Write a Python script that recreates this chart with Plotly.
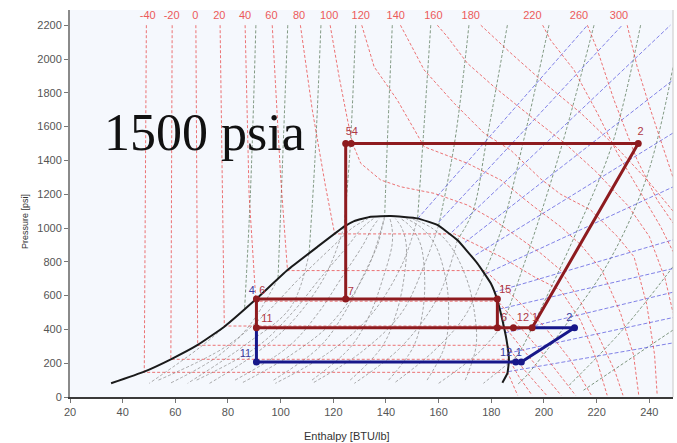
import plotly.graph_objects as go

# ---------------- axes ----------------
X_RANGE = [20, 249]
Y_RANGE = [0, 2290]
X_TICKS = [20, 40, 60, 80, 100, 120, 140, 160, 180, 200, 220, 240]
Y_TICKS = [0, 200, 400, 600, 800, 1000, 1200, 1400, 1600, 1800, 2000, 2200]

# ---------------- saturation dome ----------------
DOME_H = [35.6, 48.2, 58.3, 68.5, 78.6, 90.6, 102.6, 114.0, 124.1, 127.9, 134.2, 141.8,
          151.9, 159.5, 167.1, 174.7, 179.8, 182.3, 184.2, 185.8, 186.7, 186.1, 184.2]
DOME_P = [81, 150, 223, 308, 416, 578, 751, 889, 1008, 1041, 1067, 1071,
          1057, 1018, 929, 791, 673, 574, 456, 337, 219, 140, 85]

# ---------------- isotherms (red dashed) ----------------
ISO_T = [-40, -20, 0, 20, 40, 60, 80, 100, 120, 140, 160, 180, 220, 260, 300]
ISO_H = [
    [49.0, 48.2, 186.2, 188.0, 190.0],
    [58.8, 58.3, 186.7, 190.5, 195.5],
    [67.8, 68.5, 186.1, 192.0, 201.0],
    [77.0, 78.6, 184.9, 191.0, 199.0, 206.5],
    [86.5, 88.0, 90.6, 182.5, 190.0, 200.0, 212.0],
    [96.8, 100.0, 102.6, 177.6, 188.0, 200.0, 210.0, 218.0],
    [107.5, 112.0, 117.0, 120.5, 166.0, 183.6, 196.2, 206.3, 214.0, 220.0, 224.0],
    [118.8, 122.2, 125.4, 127.3, 130.4, 138.0, 145.6, 158.3, 170.9, 181.0, 189.9, 198.8,
     206.3, 214.0, 221.0, 227.0, 230.0],
    [130.8, 135.5, 144.3, 154.5, 170.9, 183.6, 196.2, 206.3, 214.0, 222.0, 229.0, 234.0, 236.0],
    [145.5, 154.5, 165.9, 177.3, 187.4, 198.8, 206.3, 217.7, 227.9, 234.2, 239.0, 242.0, 243.0],
    [159.5, 163.3, 170.9, 181.0, 195.0, 208.0, 220.0, 232.0, 240.0, 246.0, 249.0],
    [176.0, 187.4, 200.0, 214.0, 228.0, 240.0, 249.0],
    [199.5, 202.5, 211.4, 220.3, 227.9, 236.7, 244.3, 249.0],
    [216.5, 220.3, 226.6, 235.4, 243.0, 249.0],
    [231.6, 235.4, 240.5, 246.8, 249.0],
]
ISO_P = [
    [2200, 146, 146, 80, 10],
    [2200, 223, 223, 120, 10],
    [2200, 306, 306, 170, 10],
    [2200, 420, 420, 300, 150, 10],
    [2200, 1200, 567, 567, 430, 250, 10],
    [2200, 1300, 748, 748, 600, 420, 220, 10],
    [2200, 1700, 1250, 965, 965, 830, 712, 633, 450, 220, 10],
    [2200, 1895, 1639, 1501, 1383, 1284, 1244, 1205, 1136, 1047, 949, 850,
     751, 560, 350, 150, 10],
    [2200, 1954, 1757, 1481, 1383, 1284, 1126, 1008, 900, 750, 500, 250, 10],
    [2200, 1935, 1738, 1560, 1460, 1290, 1200, 1107, 949, 830, 550, 250, 10],
    [2200, 2132, 1975, 1836, 1660, 1500, 1330, 1130, 950, 700, 500],
    [2200, 2035, 1860, 1680, 1470, 1270, 1100],
    [2200, 2112, 1935, 1679, 1442, 1205, 1008, 860],
    [2200, 2053, 1757, 1402, 1166, 1030],
    [2200, 1954, 1698, 1402, 1300],
]
TLABEL_X = [49.5, 58.6, 67.6, 76.7, 86.5, 96.5, 107.0, 118.4, 130.4, 143.7, 158.0, 172.2,
            195.6, 213.3, 228.5]
TLABEL_Y = 2254

# ---------------- isochors (blue dashed) ----------------
ISOCHOR_H = [[152, 216.5], [160, 229.7], [165, 248], [170, 249], [174, 249], [178, 249],
             [181, 249], [183, 249], [185.3, 249], [186.5, 249], [186.4, 249]]
ISOCHOR_P = [[1055, 2200], [1035, 2200], [975, 2200], [915, 1876], [840, 1562], [730, 1243],
             [620, 930], [520, 760], [380, 620], [260, 470], [150, 320]]

# ---------------- isentropes (green outside, gray inside dome) ----------------
ISEN_OUT_H = [
    [90.6, 88.5, 86.3], [102.7, 100.5, 99.0], [115.3, 113.0, 110.8], [128.5, 126.5, 124.1],
    [142.4, 140.5, 139.5], [157.0, 154.0, 152.0], [171.5, 166.0, 160.0],
    [186.1, 178.0, 173.0, 167.1], [201.9, 192.0, 184.0, 177.3], [219.0, 207.0, 196.0, 184.5],
    [236.7, 226.0, 213.0, 200.0, 190.0, 186.6], [249.0, 239.0, 225.0, 208.0, 193.0, 190.0],
    [249.0, 230.0, 209.0], [249.0, 215.0],
]
ISEN_OUT_P = [
    [2200, 1200, 520], [2200, 1300, 700], [2200, 1400, 850], [2200, 1500, 1008],
    [2200, 1500, 1071], [2200, 1500, 1057], [2200, 1500, 1015],
    [2200, 1500, 1100, 929], [2200, 1500, 1000, 730], [2200, 1500, 950, 430],
    [2200, 1500, 1000, 560, 250, 200], [1950, 1300, 811, 420, 120, 75],
    [771, 400, 61], [396, 40],
]
ISEN_IN_H = [
    [86.3, 69.7, 50.1], [99.0, 88.0, 76.0, 58.0], [110.8, 103.9, 87.4, 64.7],
    [124.1, 117.0, 104.0, 89.0, 73.0], [139.5, 133.0, 120.0, 104.0, 85.0],
    [152.0, 146.0, 134.0, 118.0, 98.0], [160.0, 155.0, 146.0, 131.0, 112.0],
    [167.1, 160.0, 146.0, 128.0], [177.3, 170.0, 158.0, 143.0], [184.5, 175.0, 160.0],
    [186.6, 177.0],
]
ISEN_IN_P = [
    [520, 298, 81], [700, 420, 240, 81], [850, 534, 318, 81],
    [1008, 720, 440, 240, 81], [1071, 760, 450, 250, 81],
    [1057, 780, 480, 260, 81], [1015, 800, 500, 270, 81],
    [929, 600, 300, 81], [730, 480, 270, 81], [430, 260, 81],
    [200, 81],
]

# ---------------- quality lines inside dome ----------------
Q_P = [100, 300, 500, 700, 900, 1000, 1055]
Q_H = [
    [53.6, 79.4, 94.7, 107.0, 120.4, 127.2, 133.1],
    [68.1, 91.3, 104.5, 114.9, 125.8, 130.9, 135.2],
    [82.7, 103.1, 114.4, 122.9, 131.3, 134.7, 137.3],
    [97.3, 115.0, 124.3, 130.8, 136.8, 138.5, 139.4],
    [111.9, 126.8, 134.2, 138.8, 142.3, 142.3, 141.5],
    [126.4, 138.6, 144.0, 146.8, 147.7, 146.0, 143.6],
    [141.0, 150.5, 153.9, 154.7, 153.2, 149.8, 145.7],
    [155.6, 162.3, 163.8, 162.7, 158.7, 153.6, 147.8],
    [170.1, 174.2, 173.6, 170.6, 164.2, 157.4, 149.9],
]

# ---------------- refrigeration cycle ----------------
RED_SEG_H = [[124.7, 235.8, 195.5], [124.7, 124.7], [90.8, 182.3, 182.3], [90.8, 90.8, 195.5]]
RED_SEG_P = [[1500, 1500, 410], [1500, 580], [580, 580, 410], [580, 410, 410]]
RED_PT_H = [124.7, 126.8, 235.8, 124.7, 90.8, 182.3, 90.8, 182.3, 188.4, 195.5]
RED_PT_P = [1500, 1500, 1500, 580, 580, 580, 410, 410, 410, 410]

BLUE_PATH_H = [90.8, 90.8, 191.4, 211.6, 195.5]
BLUE_PATH_P = [410, 207, 207, 410, 410]
BLUE_PT_H = [90.8, 189.3, 191.4, 211.6]
BLUE_PT_P = [207, 207, 207, 410]

RED_LBL = ["54", "2", "7", "6", "11", "15", "6", "12", "1"]
RED_LBL_H = [127.0, 236.7, 126.6, 93.0, 94.8, 185.3, 184.8, 192.0, 196.6]
RED_LBL_P = [1565, 1565, 622, 627, 462, 633, 465, 465, 465]
BLUE_LBL = ["4", "11", "2", "12", "1"]
BLUE_LBL_H = [89.0, 86.6, 209.6, 185.6, 190.4]
BLUE_LBL_P = [627, 255, 467, 258, 256]

# ---------------- colours ----------------
C_ISOTHERM = "rgba(232,70,70,0.75)"
C_ISOCHOR = "rgba(100,100,225,0.8)"
C_ISEN = "rgba(95,125,95,0.8)"
C_INSIDE = "rgba(140,140,140,0.75)"
C_RED = "#8e1b1f"
C_BLUE = "#17178a"

fig = go.Figure()


def add_line(h, p, color, width=1, dash="3px,2px", shape="linear"):
    fig.add_trace(go.Scatter(x=h, y=p, mode="lines",
                             line=dict(color=color, width=width, dash=dash, shape=shape),
                             hoverinfo="skip", showlegend=False))


for h in Q_H:
    add_line(h, Q_P, C_INSIDE, 1, "3px,2px", "spline")
for h, p in zip(ISEN_IN_H, ISEN_IN_P):
    add_line(h, p, C_INSIDE, 1, "3px,2px", "spline")
for h, p in zip(ISEN_OUT_H, ISEN_OUT_P):
    add_line(h, p, C_ISEN, 1, "3px,2px", "spline")
for h, p in zip(ISOCHOR_H, ISOCHOR_P):
    add_line(h, p, C_ISOCHOR, 1, "4px,2px")
for h, p in zip(ISO_H, ISO_P):
    add_line(h, p, C_ISOTHERM, 1, "3px,2px")

# dome
fig.add_trace(go.Scatter(x=DOME_H, y=DOME_P, mode="lines",
                         line=dict(color="#1a1a1a", width=2, shape="spline", smoothing=0.35),
                         hoverinfo="skip", showlegend=False))

# cycle
for h, p in zip(RED_SEG_H, RED_SEG_P):
    add_line(h, p, C_RED, 3, "solid")
add_line(BLUE_PATH_H, BLUE_PATH_P, C_BLUE, 3, "solid")
fig.add_trace(go.Scatter(x=RED_PT_H, y=RED_PT_P, mode="markers",
                         marker=dict(color=C_RED, size=7), hoverinfo="skip", showlegend=False))
fig.add_trace(go.Scatter(x=BLUE_PT_H, y=BLUE_PT_P, mode="markers",
                         marker=dict(color=C_BLUE, size=7), hoverinfo="skip", showlegend=False))

# labels
fig.add_trace(go.Scatter(x=RED_LBL_H, y=RED_LBL_P, mode="text", text=RED_LBL,
                         textfont=dict(color="#b03845", size=11, family="Liberation Sans"),
                         hoverinfo="skip", showlegend=False))
fig.add_trace(go.Scatter(x=BLUE_LBL_H, y=BLUE_LBL_P, mode="text", text=BLUE_LBL,
                         textfont=dict(color="#3a3a9e", size=11, family="Liberation Sans"),
                         hoverinfo="skip", showlegend=False))
fig.add_trace(go.Scatter(x=TLABEL_X, y=[TLABEL_Y] * len(TLABEL_X), mode="text",
                         text=[str(t) for t in ISO_T],
                         textfont=dict(color="#ec5a5a", size=11, family="Liberation Sans"),
                         hoverinfo="skip", showlegend=False))

fig.add_annotation(x=71.2, y=1568, xref="x", yref="y", text="1500 psia", showarrow=False,
                   font=dict(family="Liberation Serif", size=52, color="#111111"))
fig.add_annotation(x=-0.0746, y=0.452, xref="paper", yref="paper", text="Pressure [psi]",
                   textangle=-90, showarrow=False, xanchor="center", yanchor="middle",
                   font=dict(family="Liberation Sans", size=9, color="#333333"))
fig.add_annotation(x=0.459, y=-0.1008, xref="paper", yref="paper", text="Enthalpy [BTU/lb]",
                   showarrow=False, xanchor="center", yanchor="middle",
                   font=dict(family="Liberation Sans", size=11, color="#333333"))

fig.add_shape(type="line", xref="paper", yref="paper", x0=1, x1=1, y0=0, y1=1,
              line=dict(color="#c8c8c8", width=1))

fig.update_layout(
    width=677, height=443,
    margin=dict(l=70, r=4, t=10, b=46),
    paper_bgcolor="white", plot_bgcolor="#f5f8fd",
    font=dict(family="Liberation Sans", size=11, color="#555555"),
    showlegend=False,
)
fig.update_xaxes(range=X_RANGE, tickvals=X_TICKS, showgrid=False, zeroline=False,
                 showline=True, linecolor="#3a3a3a", linewidth=2,
                 ticks="outside", ticklen=4, tickcolor="#777777",
                 tickfont=dict(size=11, color="#555555"))
fig.update_yaxes(range=Y_RANGE, tickvals=Y_TICKS, showgrid=False, zeroline=False,
                 showline=True, linecolor="#8a8a8a", linewidth=2,
                 ticks="outside", ticklen=4, tickcolor="#777777",
                 tickfont=dict(size=11, color="#555555"))

fig.write_html("out.html", config={"responsive": False, "displayModeBar": False},
               default_width="677px", default_height="443px",
               post_script="document.body.style.margin='0';document.body.style.overflow='hidden';")
